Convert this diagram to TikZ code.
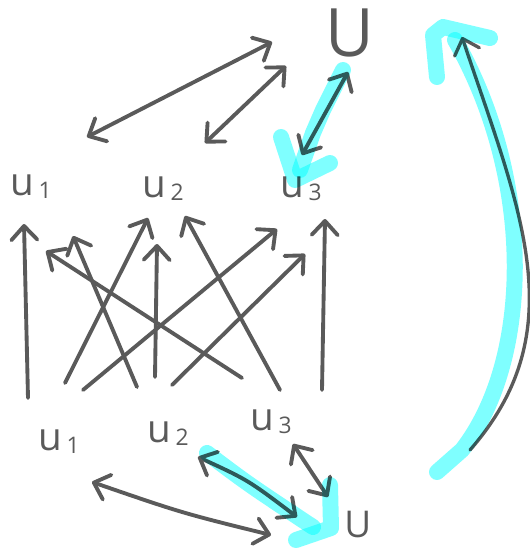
\documentclass[tikz,border=0pt]{standalone}
\usepackage{fontspec}
\setmainfont{Open Sans}
\usetikzlibrary{arrows.meta}

\definecolor{inkgray}{RGB}{90,90,90}
\definecolor{hlcyan}{RGB}{0,255,255}

\newcommand{\ulabel}[1]{u\hspace{0.9mm}\raisebox{-0.6mm}{\fontsize{13}{13}\selectfont #1}}

\tikzset{
  pen/.style={draw=inkgray, line width=2.2pt, line cap=round, line join=round},
  oneway/.style={pen, -{Straight Barb[length=2.8mm, width=5.2mm, round]}},
  twoway/.style={pen, {Straight Barb[length=2.8mm, width=5.2mm, round]}-{Straight Barb[length=2.8mm, width=5.2mm, round]}},
  hl/.style={draw=hlcyan, line width=3.2mm, line cap=round, line join=round, opacity=0.5, blend mode=multiply},
  lbl/.style={inner sep=0pt, anchor=base west, text=inkgray, font=\fontsize{22}{22}\selectfont}
}

\begin{document}
\begin{tikzpicture}[x=0.02cm, y=-0.02cm]
\useasboundingbox (0,0) rectangle (530,552);

% Labels, top row and bottom row
\node[lbl, font=\fontsize{38}{38}\selectfont] (tU) at (325,56) {U};
\node[lbl] (tu1) at (10,195) {\ulabel{1}};
\node[lbl] (tu2) at (142,197) {\ulabel{2}};
\node[lbl] (tu3) at (280,197) {\ulabel{3}};

\node[lbl] (bu1) at (38,450) {\ulabel{1}};
\node[lbl] (bu2) at (147,442) {\ulabel{2}};
\node[lbl] (bu3) at (250,430) {\ulabel{3}};
\node[lbl, font=\fontsize{21}{21}\selectfont] (bU) at (344,537) {U};

% Ends of the top double arrows
\coordinate (ta1) at (87,137);  \coordinate (ta2) at (272,42);
\coordinate (tb1) at (205,143); \coordinate (tb2) at (286,66);
\coordinate (tc1) at (302,155); \coordinate (tc2) at (348,72);

% Ends of the bottom double arrows
\coordinate (ba1) at (92,482);  \coordinate (ba2) at (271,535);
\coordinate (bb1) at (198,457); \coordinate (bb2) at (297,517);
\coordinate (bc1) at (293,444); \coordinate (bc2) at (328,497);

% Middle arrows: m = start (bottom u_i), n = tip (top u_j)
\coordinate (m11) at (28,398);  \coordinate (n11) at (24,224);
\coordinate (m21) at (137,387); \coordinate (n21) at (73,236);
\coordinate (m31) at (242,378); \coordinate (n31) at (46,251);
\coordinate (m12) at (65,383);  \coordinate (n12) at (148,218);
\coordinate (m22) at (155,377); \coordinate (n22) at (157,244);
\coordinate (m32) at (280,390); \coordinate (n32) at (185,216);
\coordinate (m13) at (83,390);  \coordinate (n13) at (277,229);
\coordinate (m23) at (172,385); \coordinate (n23) at (305,254);
\coordinate (m33) at (322,390); \coordinate (n33) at (325,219);

% Long return arc on the right
\coordinate (cv1) at (470,450); \coordinate (cv2) at (462,37);

% Top: U and the u_i
\draw[twoway] (ta1) -- (ta2);
\draw[twoway] (tb1) -- (tb2);
\draw[twoway] (tc1) -- (tc2);

% Bottom: u_i and U
\draw[twoway] (ba1) .. controls (182,513) .. (ba2);
\draw[twoway] (bb1) .. controls (248,480) .. (bb2);
\draw[twoway] (bc1) -- (bc2);

% Middle: every bottom u_i to every top u_j
\draw[oneway] (m11) -- (n11);
\draw[oneway] (m21) -- (n21);
\draw[oneway] (m31) -- (n31);
\draw[oneway] (m12) -- (n12);
\draw[oneway] (m22) -- (n22);
\draw[oneway] (m32) -- (n32);
\draw[oneway] (m13) -- (n13);
\draw[oneway] (m23) -- (n23);
\draw[oneway] (m33) -- (n33);

% Return arc
\draw[oneway, line width=1.9pt] (cv1) .. controls (575,330) and (520,210) .. (cv2);

% Cyan marker strokes
\draw[hl] (343,70) -- (323,110) -- (313,133) -- (300,170);
\draw[hl] (281,137) -- (295,180) -- (330,163);
\draw[hl] (207,453) .. controls (248,484) .. (313,527);
\draw[hl] (330,485) -- (331,528) -- (296,540);
\draw[hl] (437,472) -- (462,450) .. controls (532,360) and (535,180) .. (455,40);
\draw[hl] (437,77) -- (433,35) -- (443,27) -- (490,38);

\end{tikzpicture}
\end{document}
